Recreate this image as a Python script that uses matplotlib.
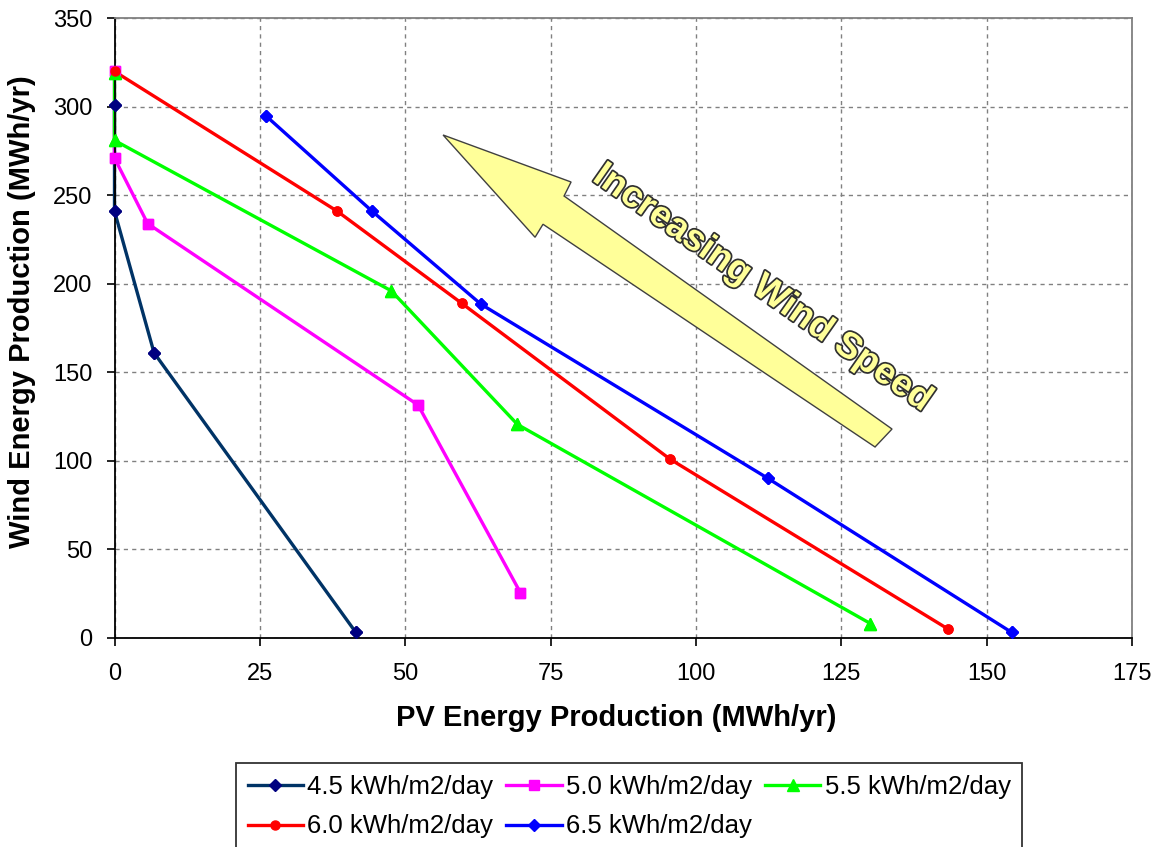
import matplotlib
matplotlib.use("Agg")
import matplotlib.pyplot as plt
from matplotlib.patches import Polygon
import matplotlib.patheffects as pe

plt.rcParams['font.family'] = ['Liberation Sans', 'DejaVu Sans']

# PV vs wind energy production trade-off curves for several solar resource levels
labels = ["4.5 kWh/m2/day", "5.0 kWh/m2/day", "5.5 kWh/m2/day",
          "6.0 kWh/m2/day", "6.5 kWh/m2/day"]

pv_45 = [0.0, 0.0, 6.8, 41.5]
wind_45 = [301, 241, 161, 3]

pv_50 = [0.0, 0.0, 5.7, 52.2, 69.8]
wind_50 = [320, 271, 234, 131.5, 25.5]

pv_55 = [0.0, 0.0, 47.6, 69.3, 130.0]
wind_55 = [319, 281, 196, 120.5, 8]

pv_60 = [0.0, 38.3, 59.7, 95.5, 143.3]
wind_60 = [320, 241, 189, 101, 5]

pv_65 = [26.0, 44.3, 63.0, 112.4, 154.3]
wind_65 = [295, 241, 188.5, 90, 3]

series_x = [pv_45, pv_50, pv_55, pv_60, pv_65]
series_y = [wind_45, wind_50, wind_55, wind_60, wind_65]

line_colors = ["#003366", "#FF00FF", "#00FF00", "#FF0000", "#0000FF"]
marker_colors = ["#000080", "#FF00FF", "#00FF00", "#FF0000", "#0000FF"]
markers = ["D", "s", "^", "o", "D"]
msizes = [6.5, 7.5, 8, 6.5, 6.5]

x_ticks = [0, 25, 50, 75, 100, 125, 150, 175]
y_ticks = [0, 50, 100, 150, 200, 250, 300, 350]

fig = plt.figure(figsize=(11.62, 8.47), dpi=100)
ax = fig.add_axes([0.09854, 0.2471, 0.8757, 0.7313])

handles = []
for i in range(len(labels)):
    ln, = ax.plot(series_x[i], series_y[i], color=line_colors[i], lw=2.4,
                  marker=markers[i], ms=msizes[i], mfc=marker_colors[i],
                  mec=marker_colors[i], zorder=2 + i * 0.01, clip_on=False)
    ax.plot(series_x[i], series_y[i], ls='none', marker=markers[i],
            ms=msizes[i], mfc=marker_colors[i], mec=marker_colors[i],
            zorder=3, clip_on=False)
    handles.append(ln)

ax.set_xlim(0, 175)
ax.set_ylim(0, 350)
ax.set_xticks(x_ticks)
ax.set_yticks(y_ticks)
ax.tick_params(direction='out', length=6, width=1.2, labelsize=17, colors='black')
ax.tick_params(axis='x', pad=12)
ax.tick_params(axis='y', pad=10)

ax.grid(True, color='#808080', linestyle=(0, (3, 3)), linewidth=1.0)
ax.set_axisbelow(True)
for side in ['left', 'bottom']:
    ax.spines[side].set_color('black')
    ax.spines[side].set_linewidth(1.3)
for side in ['top', 'right']:
    ax.spines[side].set_color('#808080')
    ax.spines[side].set_linewidth(1.3)

ax.set_xlabel("PV Energy Production (MWh/yr)", fontsize=21, fontweight='bold')
ax.set_ylabel("Wind Energy Production (MWh/yr)", fontsize=21, fontweight='bold')
ax.xaxis.set_label_coords(0.4929, -0.1296)
ax.xaxis.label.set_va('center')
ax.yaxis.set_label_coords(-0.0909, 0.527)
ax.yaxis.label.set_va('center')

# Big yellow arrow pointing up-left
arrow_pts = [(0.3229, 0.8116), (0.4487, 0.7357), (0.4418, 0.7131),
             (0.7641, 0.3369), (0.7474, 0.3079), (0.4211, 0.6675),
             (0.4133, 0.6465)]
ax.add_patch(Polygon(arrow_pts, closed=True, transform=ax.transAxes,
                     facecolor='#FFFF99', edgecolor='#404040', lw=1.0,
                     zorder=4))

ax.text(0.6364, 0.5646, "Increasing Wind Speed", transform=ax.transAxes,
        rotation=-35, rotation_mode='anchor', ha='center', va='center',
        fontsize=26.5, fontweight='bold',
        family=['Liberation Sans', 'DejaVu Sans'],
        color='#FFFF99', zorder=5,
        path_effects=[pe.Stroke(linewidth=2.5, foreground='#303030'),
                      pe.Normal()])

# Legend filled row by row: 3 columns, 2 rows
order = [0, 3, 1, 4, 2]
leg = fig.legend([handles[k] for k in order], [labels[k] for k in order],
                 loc='upper left',
                 bbox_to_anchor=(236 / 1162, 1 - 763 / 847), ncol=3,
                 fontsize=18.5, frameon=True, fancybox=False,
                 handlelength=2.15, handletextpad=0.18, columnspacing=0.5,
                 labelspacing=0.62, borderpad=0.45, borderaxespad=0)
leg.get_frame().set_edgecolor('black')
leg.get_frame().set_linewidth(1.3)

fig.savefig("out.png", dpi=100)
